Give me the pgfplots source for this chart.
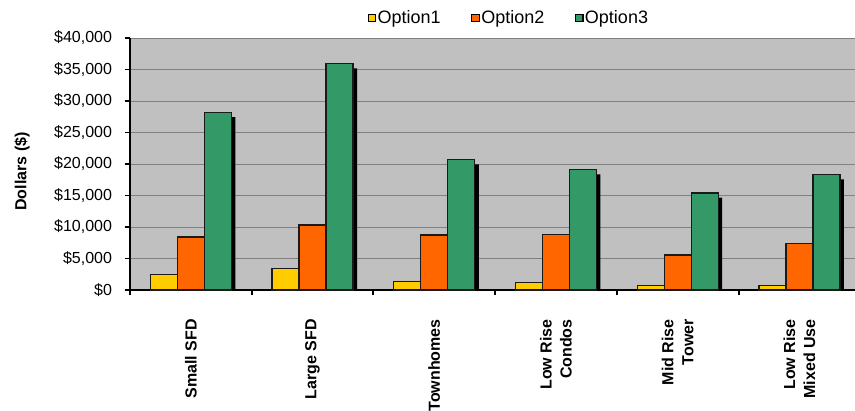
\documentclass[border=0pt]{standalone}
\usepackage{fontspec}
\setmainfont{Liberation Sans}
\usepackage{pgfplots}
\pgfplotsset{compat=1.18}
\usetikzlibrary{shadows}

\definecolor{optA}{HTML}{FFCC00}
\definecolor{optB}{HTML}{FF6600}
\definecolor{optC}{HTML}{339966}
\definecolor{plotbg}{HTML}{C0C0C0}
\definecolor{gridgray}{HTML}{808080}
\definecolor{edge}{HTML}{1A1A1A}

\makeatletter
\tikzset{no preaction/.code={\let\tikz@preactions\pgfutil@empty}}
\makeatother

% Cost per dwelling type, one table per option
\pgfplotstableread{
x y
0 2450
1 3400
2 1350
3 1200
4 700
5 700
}\optionone
\pgfplotstableread{
x y
0 8400
1 10300
2 8750
3 8850
4 5550
5 7350
}\optiontwo
\pgfplotstableread{
x y
0 28200
1 35900
2 20700
3 19100
4 15400
5 18300
}\optionthree

\pgfplotsset{
  costbar/.style={draw=edge, fill=#1, line width=1pt,
    drop shadow={shadow xshift=3pt, shadow yshift=-3.5pt, fill=black, draw=none, opacity=1},
    legend image code/.code={\draw[no preaction, fill=#1, draw=black, line width=0.9pt]
      (0pt,-2.8pt) rectangle (5.6pt,2.8pt);}},
}

\begin{document}
\begin{tikzpicture}
\useasboundingbox (-97.5pt,-90pt) rectangle (543.75pt,217.5pt);
\begin{axis}[
  at={(0pt,0pt)}, anchor=south west,
  scale only axis, width=543.75pt, height=189pt,
  ybar=0pt, bar width=20.25pt,
  xmin=-0.5, xmax=5.457,
  ymin=0, ymax=40000,
  scaled y ticks=false,
  axis background/.style={fill=plotbg},
  axis x line*=bottom, axis y line*=left,
  axis line style={black, line width=1.2pt},
  x axis line style={line width=2pt},
  ymajorgrids, grid style={gridgray, line width=0.7pt},
  tick align=outside,
  major tick length=4pt,
  minor tick length=4pt,
  xtick={0,...,5},
  major x tick style={draw=none},
  minor xtick={-0.5,0.5,1.5,2.5,3.5,4.5},
  minor x tick style={black, line width=1.5pt},
  y tick style={black, line width=1pt},
  xticklabels={Small SFD, Large SFD, Townhomes, {Low Rise\\Condos}, {Mid Rise\\Tower}, {Low Rise\\Mixed Use}},
  xticklabel style={rotate=90, anchor=east, align=right, font=\bfseries\fontsize{12}{15}\selectfont},
  xticklabel shift=14.5pt,
  ytick={0,5000,...,40000},
  yticklabels={{\$0},{\$5,000},{\$10,000},{\$15,000},{\$20,000},{\$25,000},{\$30,000},{\$35,000},{\$40,000}},
  yticklabel style={font=\fontsize{12}{14}\selectfont},
  yticklabel shift=6pt,
  ylabel={Dollars (\$)},
  every axis y label/.style={at={(axis description cs:0,0.5)}, xshift=-81pt, yshift=-5.6pt, rotate=90, anchor=center, font=\bfseries\fontsize{12}{14}\selectfont},
  legend style={draw=none, fill=none, legend columns=3,
    at={(axis description cs:0.522,1)}, anchor=center, yshift=15pt,
    font=\fontsize{13.5}{15}\selectfont,
    nodes={inner xsep=1pt},
    /tikz/every even column/.append style={column sep=22pt}},
]
\addplot[costbar=optA] table[x=x,y=y] {\optionone};
\addplot[costbar=optB] table[x=x,y=y] {\optiontwo};
\addplot[costbar=optC] table[x=x,y=y] {\optionthree};
\legend{Option1, Option2, Option3}
\end{axis}
\end{tikzpicture}
\end{document}
